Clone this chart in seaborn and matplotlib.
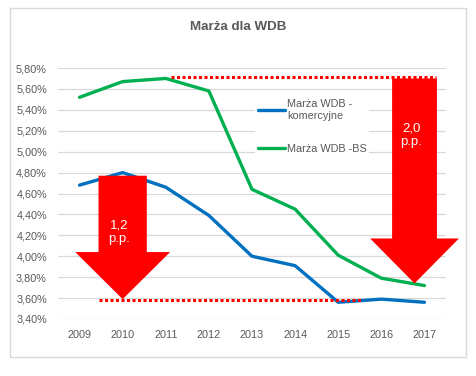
import numpy as np
import pandas as pd
import matplotlib
matplotlib.use("Agg")
import matplotlib.pyplot as plt
from matplotlib.patches import Polygon, Rectangle
import seaborn as sns

years = [2009, 2010, 2011, 2012, 2013, 2014, 2015, 2016, 2017]
komercyjne = [4.68, 4.80, 4.66, 4.39, 4.00, 3.91, 3.56, 3.59, 3.56]
bs = [5.52, 5.67, 5.70, 5.58, 4.64, 4.45, 4.01, 3.79, 3.72]
series_names = ["Marża WDB -\nkomercyjne", "Marża WDB -BS"]
series_colors = ["#0070C0", "#00B050"]
y_ticks = [3.4, 3.6, 3.8, 4.0, 4.2, 4.4, 4.6, 4.8, 5.0, 5.2, 5.4, 5.6, 5.8]

# annotation values (in %)
top_level = 5.71
bottom_level = 3.58
arrow_left = dict(x=2010, top=4.77, neck=4.04, tip=3.59, shaft=0.56, head=1.1, text="1,2\np.p.", text_y=4.23)
arrow_right = dict(x=2016.77, top=5.70, neck=4.17, tip=3.74, shaft=0.52, head=1.03, text="2,0\np.p.", text_y=5.16)

df = pd.DataFrame(
    {
        "year": years * 2,
        "value": komercyjne + bs,
        "series": [series_names[0]] * len(years) + [series_names[1]] * len(years),
    }
)

sns.set_theme(style="whitegrid")
plt.rcParams["font.family"] = ["Liberation Sans", "DejaVu Sans"]
grey = "#595959"

fig = plt.figure(figsize=(4.76, 3.76), dpi=100)
ax = fig.add_axes([58 / 476, 1 - 319 / 376, 388 / 476, 251 / 376])
sns.lineplot(
    data=df, x="year", y="value", hue="series", palette=series_colors,
    linewidth=2.4, ax=ax,
)

ax.set_xlim(years[0] - 0.5, years[-1] + 0.5)
ax.set_ylim(y_ticks[0], y_ticks[-1])
ax.set_xticks(years)
ax.set_yticks(y_ticks)
ax.set_yticklabels([f"{v:.2f}%".replace(".", ",") for v in y_ticks])
ax.tick_params(axis="both", labelsize=7.8, colors=grey, length=0)
ax.tick_params(axis="y", pad=8)
ax.tick_params(axis="x", pad=8)
ax.grid(axis="x", visible=False)
ax.grid(axis="y", color="#D9D9D9", linewidth=0.9)
ax.set_xlabel("")
ax.set_ylabel("")
for s in ax.spines.values():
    s.set_visible(False)

# dotted reference levels
ax.hlines(top_level, 2011.13, 2017.26, colors="#FF0000", linestyles=(0, (1, 0.8)), linewidth=2.2, zorder=3)
ax.hlines(bottom_level, 2009.46, 2015.52, colors="#FF0000", linestyles=(0, (1, 0.8)), linewidth=2.2, zorder=3)

# block arrows
for a in [arrow_left, arrow_right]:
    x, sw, hw = a["x"], a["shaft"], a["head"]
    pts = [
        (x - sw, a["top"]), (x + sw, a["top"]), (x + sw, a["neck"]),
        (x + hw, a["neck"]), (x, a["tip"]), (x - hw, a["neck"]),
        (x - sw, a["neck"]),
    ]
    ax.add_patch(Polygon(pts, closed=True, facecolor="#FF0000", edgecolor="none", zorder=4, clip_on=False))
    ax.text(x - 0.08, a["text_y"], a["text"], color="white", fontsize=9.5, ha="center", va="center",
            linespacing=1.15, zorder=5)

handles, labels = ax.get_legend_handles_labels()
leg = ax.legend(
    handles, labels, loc="upper left", bbox_to_anchor=(0.495, 0.905), frameon=True,
    fontsize=7.8, handlelength=2.5, handletextpad=0.2, labelspacing=2.1,
    borderpad=0.2, labelcolor=grey,
)
leg.get_frame().set_facecolor("white")
leg.get_frame().set_edgecolor("none")
leg.get_frame().set_alpha(1)

fig.text(0.5, 1 - 27 / 376, "Marża dla WDB", ha="center", va="center", fontsize=9.6,
         fontweight="bold", color=grey)
fig.patches.append(Rectangle((10 / 476, 1 - 357 / 376), 456 / 476, 349 / 376, transform=fig.transFigure,
                             fill=False, edgecolor="#D9D9D9", linewidth=1))

fig.savefig("out.png", dpi=100)
